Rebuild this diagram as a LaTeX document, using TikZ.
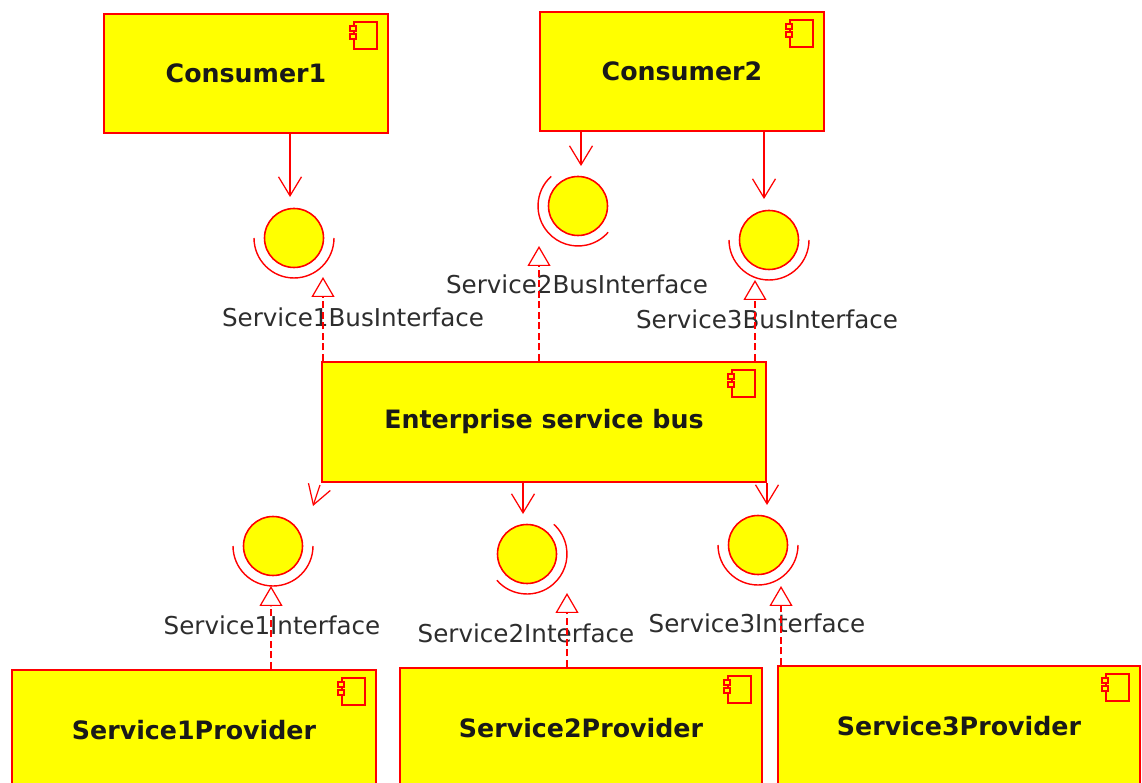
\documentclass[tikz,border=0pt]{standalone}
\usepackage{fontspec}
\setmainfont{DejaVu Sans}
\usetikzlibrary{arrows.meta}
\definecolor{umlred}{RGB}{255,0,0}
\definecolor{umlyellow}{RGB}{255,255,0}
\definecolor{ink}{RGB}{25,25,25}
\definecolor{labelink}{RGB}{45,45,45}

\tikzset{
  comp/.style={draw=umlred, fill=umlyellow, line width=1.2pt, inner sep=0pt,
    minimum width=5.68cm, minimum height=2.38cm,
    font=\fontsize{14.4}{17}\selectfont\bfseries, text=ink},
  iface/.style={circle, draw=umlred, fill=umlyellow, line width=0.9pt,
    minimum size=1.18cm, inner sep=0pt},
  socket/.style={draw=umlred, line width=0.8pt},
  lbl/.style={font=\fontsize{14}{16}\selectfont, text=labelink, inner sep=0pt},
  uses/.style={draw=umlred, line width=0.7pt,
    -{Straight Barb[length=0.38cm, width=0.46cm]}},
  realizes/.style={draw=umlred, line width=0.7pt, dash pattern=on 4pt off 2pt,
    -{Triangle[open, length=0.4cm, width=0.46cm]}},
  iconpart/.style={draw=umlred, fill=umlyellow, line width=1pt},
}

% component glyph in the upper right corner of a component box
\newcommand\compglyph[1]{%
  \draw[iconpart] ([shift={(-35,9)}]#1.north east) rectangle ([shift={(-12,36)}]#1.north east);
  \draw[iconpart] ([shift={(-39,13)}]#1.north east) rectangle ([shift={(-33,18)}]#1.north east);
  \draw[iconpart] ([shift={(-39,21)}]#1.north east) rectangle ([shift={(-33,26)}]#1.north east);
}

\begin{document}
\begin{tikzpicture}[x=0.02cm, y=-0.02cm]
\path[use as bounding box, clip] (0,0) rectangle (1142,783);

% components
\node[comp] (cons1) at (246,73.5) {Consumer1};
\node[comp] (cons2) at (682,71.5) {Consumer2};
\node[comp, minimum width=8.88cm, minimum height=2.4cm] (esb) at (544,422) {Enterprise service bus};
\node[comp, minimum width=7.28cm, minimum height=2.4cm] (prov1) at (194,730) {Service1Provider};
\node[comp, minimum width=7.24cm, minimum height=2.4cm] (prov2) at (581,728) {Service2Provider};
\node[comp, minimum width=7.24cm, minimum height=2.4cm] (prov3) at (959,726) {Service3Provider};
\foreach \c in {cons1,cons2,esb,prov1,prov2,prov3} {\compglyph{\c}}

% provided interfaces with their sockets
\node[iface] (sb1) at (294,238) {};
\node[iface] (sb2) at (578,206) {};
\node[iface] (sb3) at (769,240) {};
\node[iface] (si1) at (273,546) {};
\node[iface] (si2) at (527,554) {};
\node[iface] (si3) at (758,545) {};

\draw[socket] (sb1.center) ++(180:0.8cm) arc[start angle=180, end angle=360, radius=0.8cm];
\draw[socket] (sb2.center) ++(132:0.8cm) arc[start angle=132, end angle=319, radius=0.8cm];
\draw[socket] (sb3.center) ++(180:0.8cm) arc[start angle=180, end angle=360, radius=0.8cm];
\draw[socket] (si1.center) ++(180:0.8cm) arc[start angle=180, end angle=360, radius=0.8cm];
\draw[socket] (si2.center) ++(-139:0.8cm) arc[start angle=-139, end angle=48, radius=0.8cm];
\draw[socket] (si3.center) ++(180:0.8cm) arc[start angle=180, end angle=360, radius=0.8cm];

% interface names
\node[lbl] (lsb1) at (353,317) {Service1BusInterface};
\node[lbl] (lsb2) at (577,284) {Service2BusInterface};
\node[lbl] (lsb3) at (767,319) {Service3BusInterface};
\node[lbl] (lsi1) at (272,625) {Service1Interface};
\node[lbl] (lsi2) at (526,633) {Service2Interface};
\node[lbl] (lsi3) at (757,623) {Service3Interface};

% ends of the usage arrows
\coordinate (u1) at (290,197);
\coordinate (u2) at (581,166);
\coordinate (u3) at (764,199);
\coordinate (u4) at (313,506);
\coordinate (u5) at (523,514);
\coordinate (u6) at (767,505);

% ends of the realization arrows
\coordinate (r1) at (323,277);
\coordinate (r2) at (539,246);
\coordinate (r3) at (755,280);
\coordinate (r4) at (271,586);
\coordinate (r5) at (567,593);
\coordinate (r6) at (781,586);

% usage
\draw[uses] (cons1.south -| u1) -- (u1);
\draw[uses] (cons2.south -| u2) -- (u2);
\draw[uses] (cons2.south -| u3) -- (u3);
\draw[uses] ([shift={(-1,2)}]esb.south west) -- (u4);
\draw[uses] (esb.south -| u5) -- (u5);
\draw[uses] (esb.south -| u6) -- (u6);

% realization
\draw[realizes] (esb.north -| r1) -- (r1);
\draw[realizes] (esb.north -| r2) -- (r2);
\draw[realizes] (esb.north -| r3) -- (r3);
\draw[realizes] (prov1.north -| r4) -- (r4);
\draw[realizes] (prov2.north -| r5) -- (r5);
\draw[realizes] (prov3.north -| r6) -- (r6);
\end{tikzpicture}
\end{document}
